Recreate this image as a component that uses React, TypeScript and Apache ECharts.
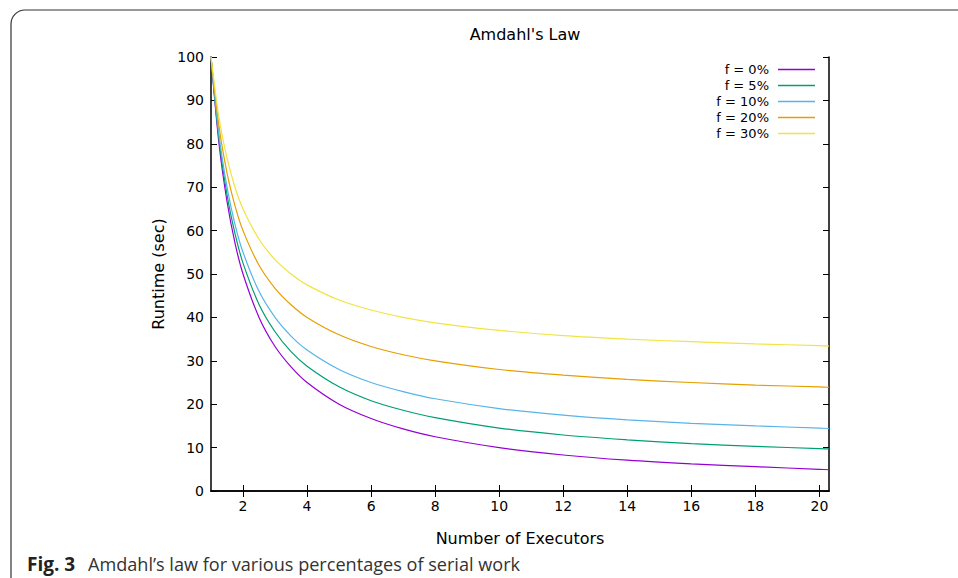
import React, { useEffect, useRef } from "react";
import * as echarts from "echarts";

const executors = [1, 1.25, 1.5, 1.75, 2, 2.5, 3, 3.5, 4, 5, 6, 7, 8, 10, 12, 14, 16, 18, 20, 20.3];
const f0 = [100, 80, 66.7, 57.1, 50, 40, 33.3, 28.6, 25, 20, 16.7, 14.3, 12.5, 10, 8.3, 7.1, 6.25, 5.6, 5, 4.9];
const f5 = [100, 81, 68.3, 59.3, 52.5, 43, 36.7, 32.1, 28.75, 24, 20.8, 18.6, 16.9, 14.5, 12.9, 11.8, 10.9, 10.3, 9.75, 9.7];
const f10 = [100, 82, 70, 61.4, 55, 46, 40, 35.7, 32.5, 28, 25, 22.9, 21.25, 19, 17.5, 16.4, 15.6, 15, 14.5, 14.4];
const f20 = [100, 84, 73.3, 65.7, 60, 52, 46.7, 42.9, 40, 36, 33.3, 31.4, 30, 28, 26.7, 25.7, 25, 24.4, 24, 23.9];
const f30 = [100, 86, 76.7, 70, 65, 58, 53.3, 50, 47.5, 44, 41.7, 40, 38.75, 37, 35.8, 35, 34.4, 33.9, 33.5, 33.4];
const seriesNames = ["f = 0%", "f = 5%", "f = 10%", "f = 20%", "f = 30%"];
const seriesData = [f0, f5, f10, f20, f30];
const colors = ["#9400d3", "#009e73", "#56b4e9", "#e69f00", "#f0e442"];
const xTicks = [2, 4, 6, 8, 10, 12, 14, 16, 18, 20];

const FONT = "DejaVu Sans";

export default function App() {
  const ref = useRef<HTMLDivElement>(null);
  useEffect(() => {
    if (!ref.current) return;
    const chart = echarts.init(ref.current, null, { renderer: "svg" });
    const axisLine = { show: true, lineStyle: { color: "#000", width: 1.5 } };
    const tick = { show: true, inside: true, length: 6, lineStyle: { color: "#000", width: 1 } };
    chart.setOption({
      animation: false,
      backgroundColor: "#fff",
      textStyle: { fontFamily: FONT },
      title: {
        text: "Amdahl's Law",
        left: 520,
        top: 21,
        textAlign: "center",
        textStyle: { fontFamily: FONT, fontSize: 16, fontWeight: "normal", color: "#000" },
      },
      legend: {
        orient: "vertical",
        right: 143,
        top: 63,
        padding: 0,
        align: "right",
        itemWidth: 37,
        itemHeight: 1.5,
        itemGap: 3,
        icon: "rect",
        textStyle: { fontFamily: FONT, fontSize: 13, color: "#000", padding: [0, 4, 0, 0] },
        data: seriesNames,
      },
      grid: { left: 211, top: 57, right: 129, bottom: 87, containLabel: false },
      xAxis: [
        {
          type: "value",
          min: 1,
          max: 20.3,
          name: "Number of Executors",
          nameLocation: "middle",
          nameGap: 39,
          nameTextStyle: { fontFamily: FONT, fontSize: 16, color: "#000" },
          axisLine,
          axisTick: { ...tick, customValues: xTicks },
          axisLabel: { customValues: xTicks, fontFamily: FONT, fontSize: 14, color: "#000", margin: 8 },
          splitLine: { show: false },
        },
        {
          type: "value",
          position: "top",
          min: 1,
          max: 20.3,
          axisLine,
          axisTick: { ...tick, customValues: xTicks },
          axisLabel: { show: false, customValues: xTicks },
          splitLine: { show: false },
        },
      ],
      yAxis: [
        {
          type: "value",
          min: 0,
          max: 100,
          interval: 10,
          name: "Runtime (sec)",
          nameLocation: "middle",
          nameGap: 45,
          nameTextStyle: { fontFamily: FONT, fontSize: 16, color: "#000" },
          axisLine,
          axisTick: tick,
          axisLabel: { fontFamily: FONT, fontSize: 14, color: "#000", margin: 7 },
          splitLine: { show: false },
        },
        {
          type: "value",
          position: "right",
          min: 0,
          max: 100,
          interval: 10,
          axisLine,
          axisTick: tick,
          axisLabel: { show: false },
          splitLine: { show: false },
        },
      ],
      series: seriesNames.map((name, i) => ({
        name,
        type: "line",
        xAxisIndex: 0,
        yAxisIndex: 0,
        data: executors.map((x, j) => [x, seriesData[i][j]]),
        smooth: 0.3,
        symbol: "none",
        color: colors[i],
        lineStyle: { width: 1.2, color: colors[i] },
      })),
      graphic: [
        {
          type: "rect",
          shape: { x: 11, y: 10, width: 1100, height: 700, r: 14 },
          style: { fill: "none", stroke: "#333", lineWidth: 1.2 },
          silent: true,
        },
        {
          type: "text",
          left: 27,
          top: 554,
          style: {
            text: "Fig. 3",
            fontFamily: "Open Sans",
            fontWeight: "bold",
            fontSize: 19,
            fill: "#222",
          },
        },
        {
          type: "text",
          left: 88,
          top: 555,
          style: {
            text: "Amdahl\u2019s law for various percentages of serial work",
            fontFamily: "Open Sans",
            fontSize: 18.1,
            fill: "#333",
          },
        },
      ],
    });
    return () => chart.dispose();
  }, []);
  return (
    <div
      ref={ref}
      style={{ position: "fixed", left: 0, top: 0, width: 958, height: 578 }}
    />
  );
}
